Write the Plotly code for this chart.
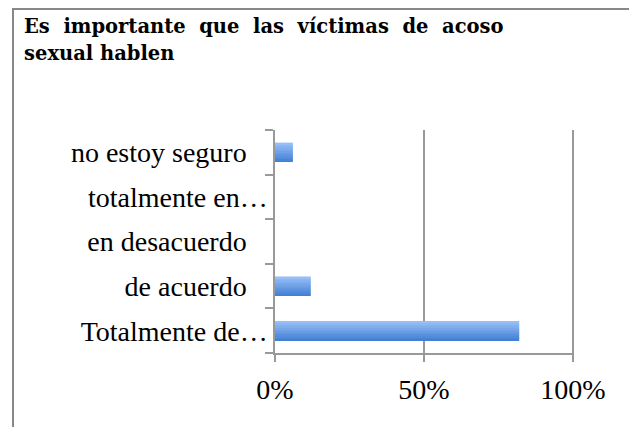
import plotly.graph_objects as go

categories = ["Totalmente de…", "de acuerdo", "en desacuerdo", "totalmente en…", "no estoy seguro"]
values = [0.82, 0.12, 0.0, 0.0, 0.06]
x_ticks = [0, 0.5, 1.0]
x_tick_labels = ["0%", "50%", "100%"]
title_lines = ["Es\u00a0 importante\u00a0 que\u00a0 las\u00a0 víctimas\u00a0 de\u00a0 acoso", "sexual hablen"]

# the page body adds an 8px offset; lay out in window pixels minus that offset
OFF = 8
W, H = 637 - OFF, 427 - OFF
L, T = 275 - OFF, 130 - OFF
R = W - (574 - OFF)
B = H - (353 - OFF)
PW, PH = W - L - R, H - T - B


def px_x(x):
    return (x - OFF - L) / PW


def px_y(y):
    return (H - B - (y - OFF)) / PH


# truncated labels run up to the axis; full labels keep a gap
y_tick_text = [c if c.endswith("…") else c + "\u00a0\u00a0\u00a0" for c in categories]

fig = go.Figure()

# gradient bars built from horizontal strips (light top -> darker bottom)
bar_w = 0.43
n = 12
top = (150, 190, 248)
bot = (66, 128, 211)
for i in range(n):
    f = i / (n - 1)  # 0 at bottom
    c = tuple(int(bot[k] + (top[k] - bot[k]) * f) for k in range(3))
    fig.add_trace(go.Bar(
        y=categories, x=values, orientation="h",
        width=bar_w / n + 0.002,
        offset=-bar_w / 2 + i * bar_w / n,
        marker=dict(color="rgb(%d,%d,%d)" % c, line=dict(width=0)),
        hoverinfo="skip", showlegend=False, cliponaxis=False,
    ))

border = "#888888"
fig.update_layout(
    width=W, height=H,
    margin=dict(l=L, r=R, t=T, b=B, autoexpand=False),
    paper_bgcolor="white", plot_bgcolor="white",
    barmode="overlay",
    showlegend=False,
    font=dict(family="Liberation Serif", size=28, color="black"),
    xaxis=dict(
        range=[0, 1.004], tickvals=x_ticks, ticktext=x_tick_labels,
        showgrid=True, gridcolor="#999999", gridwidth=1.5,
        showline=True, linecolor="#999999", linewidth=1.5,
        ticks="outside", ticklen=7, tickcolor="#999999", tickwidth=1.5,
        zeroline=False, ticklabelstandoff=4, automargin=False,
    ),
    yaxis=dict(
        range=[-0.5, 4.5], type="category",
        categoryorder="array", categoryarray=categories,
        tickmode="array", tickvals=categories, ticktext=y_tick_text,
        showgrid=False, showline=True, linecolor="#999999", linewidth=1.5,
        ticks="outside", tickson="boundaries", ticklen=8,
        tickcolor="#999999", tickwidth=1.5, ticklabelstandoff=0,
        zeroline=False, automargin=False,
    ),
    shapes=[
        dict(type="line", xref="paper", yref="paper", x0=px_x(13), x1=px_x(13),
             y0=px_y(430), y1=px_y(9), line=dict(color=border, width=2)),
        dict(type="line", xref="paper", yref="paper", x0=px_x(634), x1=px_x(634),
             y0=px_y(430), y1=px_y(9), line=dict(color=border, width=2)),
        dict(type="line", xref="paper", yref="paper", x0=px_x(12), x1=px_x(635),
             y0=px_y(9), y1=px_y(9), line=dict(color=border, width=2)),
    ],
    annotations=[
        dict(text="<b>" + title_lines[0] + "</b>", xref="paper", yref="paper",
             x=px_x(22), y=px_y(26), xanchor="left", yanchor="middle", align="left",
             showarrow=False, font=dict(family="DejaVu Serif", size=19.5, color="black")),
        dict(text="<b>" + title_lines[1] + "</b>", xref="paper", yref="paper",
             x=px_x(22), y=px_y(54), xanchor="left", yanchor="middle", align="left",
             showarrow=False, font=dict(family="DejaVu Serif", size=19.5, color="black")),
    ],
)

fig.write_html("out.html")
